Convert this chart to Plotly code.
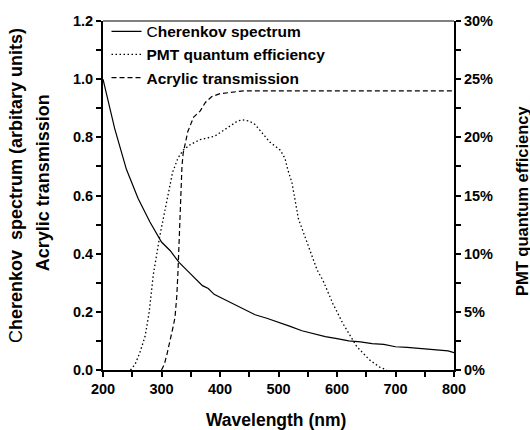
import plotly.graph_objects as go

# Cherenkov spectrum (arbitrary units, left axis)
cher_wl = [200, 220, 240, 260, 280, 300, 315, 330, 345, 360, 370, 380, 390, 400,
           420, 440, 460, 480, 500, 520, 540, 560, 580, 600, 620, 640, 660, 680,
           700, 720, 740, 760, 780, 790, 800]
cher_val = [1.00, 0.83, 0.69, 0.59, 0.51, 0.44, 0.41, 0.37, 0.34, 0.31, 0.29, 0.28, 0.26, 0.25,
            0.23, 0.21, 0.19, 0.178, 0.165, 0.15, 0.135, 0.125, 0.115, 0.108, 0.10, 0.097, 0.091, 0.088,
            0.08, 0.078, 0.075, 0.072, 0.069, 0.066, 0.06]

# PMT quantum efficiency (right axis, fraction)
pmt_wl = [247, 255, 263, 272, 279, 286, 297, 309, 319, 328, 337, 350, 366, 391, 403, 417,
          430, 438, 450, 460, 470, 485, 503, 511, 516, 523, 534, 549, 566, 576, 593, 610,
          634, 656, 673, 685]
pmt_qe = [0.000, 0.005, 0.015, 0.029, 0.050, 0.082, 0.115, 0.145, 0.170, 0.182, 0.189, 0.194,
          0.198, 0.201, 0.205, 0.210, 0.214, 0.215, 0.214, 0.211, 0.205, 0.196, 0.189, 0.182,
          0.172, 0.161, 0.130, 0.110, 0.086, 0.077, 0.057, 0.040, 0.020, 0.0085, 0.0025, 0.0]

# Acrylic transmission (left axis)
acr_wl = [300, 305, 310, 315, 320, 323, 326, 328, 330, 333, 335, 337, 345, 355, 366, 375,
          386, 400, 417, 440, 800]
acr_val = [0.0, 0.02, 0.06, 0.10, 0.15, 0.18, 0.25, 0.33, 0.45, 0.60, 0.70, 0.745, 0.82,
           0.87, 0.89, 0.92, 0.94, 0.95, 0.955, 0.96, 0.96]

FONT = "Liberation Sans, Arial, sans-serif"

fig = go.Figure()
fig.add_trace(go.Scatter(x=cher_wl, y=cher_val, mode="lines",
                         name="<span style='font-weight:normal'>C</span>herenkov spectrum",
                         line=dict(color="black", width=1.2)))
fig.add_trace(go.Scatter(x=pmt_wl, y=pmt_qe, mode="lines", yaxis="y2",
                         name="PMT quantum efficiency",
                         line=dict(color="black", width=1.3, dash="1.5px,2.5px")))
fig.add_trace(go.Scatter(x=acr_wl, y=acr_val, mode="lines",
                         name="Acrylic transmission",
                         line=dict(color="black", width=1.2, dash="5px,3px")))

axis_common = dict(showgrid=False, zeroline=False, showline=True, linecolor="black",
                   linewidth=2, ticks="outside", ticklen=5, tickwidth=1.5, tickcolor="black",
                   automargin=False,
                   tickfont=dict(family=FONT, size=14.5, color="black", weight="bold"))

title_font = dict(family=FONT, size=18, color="black", weight="bold")

fig.update_layout(
    width=530, height=430,
    margin=dict(l=103, r=76, t=21, b=60),
    paper_bgcolor="white", plot_bgcolor="white",
    font=dict(family=FONT, size=14, color="black", weight="bold"),
    showlegend=True,
    legend=dict(x=0.01, y=1.018, xanchor="left", yanchor="top", bgcolor="rgba(0,0,0,0)",
                font=dict(family=FONT, size=15.5, color="black", weight="bold"),
                tracegroupgap=0, itemwidth=30),
    xaxis=dict(range=[200, 800], dtick=100, tick0=200,
               minor=dict(dtick=50, ticks="outside", ticklen=5, tickcolor="black", tickwidth=1.5),
               **axis_common),
    yaxis=dict(range=[0, 1.2], dtick=0.2, tick0=0, tickformat=".1f",
               minor=dict(dtick=0.1, ticks="outside", ticklen=5, tickcolor="black", tickwidth=1.5),
               **axis_common),
    yaxis2=dict(range=[0, 0.30], dtick=0.05, tick0=0, tickformat=".0%", overlaying="y",
                side="right",
                minor=dict(dtick=0.025, ticks="outside", ticklen=5, tickcolor="black", tickwidth=1.5),
                **axis_common),
    shapes=[dict(type="line", xref="paper", yref="paper", x0=0, x1=1, y0=1, y1=1,
                 line=dict(color="black", width=1))],
    annotations=[
        dict(text="Wavelength (nm)", xref="paper", yref="paper",
             x=(276 - 103) / 351, y=(370 - 420) / 349,
             xanchor="center", yanchor="middle", showarrow=False,
             font=dict(family=FONT, size=17.5, color="black", weight="bold")),
        dict(text="<span style='font-weight:normal'>C</span>herenkov  spectrum (arbitary units)",
             xref="paper", yref="paper", x=(16 - 103) / 351, y=0.527, textangle=-90,
             xanchor="center", yanchor="middle", showarrow=False, font=title_font),
        dict(text="Acrylic transmission",
             xref="paper", yref="paper", x=(43 - 103) / 351, y=0.535, textangle=-90,
             xanchor="center", yanchor="middle", showarrow=False, font=title_font),
        dict(text="PMT quantum efficiency", xref="paper", yref="paper",
             x=(522 - 103) / 351, y=0.484, textangle=-90,
             xanchor="center", yanchor="middle", showarrow=False,
             font=dict(family=FONT, size=16.5, color="black", weight="bold")),
    ],
)

fig.write_html("out.html", config={"displayModeBar": False},
               post_script="document.body.style.margin='0';document.body.style.overflow='hidden';")
